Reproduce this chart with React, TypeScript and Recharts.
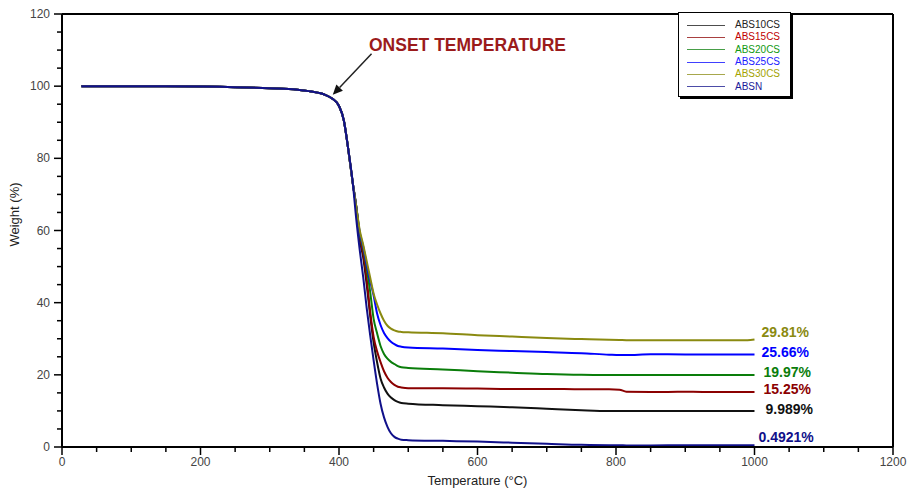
import {
  Legend,
  Line,
  LineChart,
  ReferenceDot,
  ReferenceLine,
  XAxis,
  YAxis,
} from "recharts";

const FONT = "'Liberation Sans', Arial, sans-serif";

// temperature grid (°C)
const TEMPS = [
  28, 150, 250, 300, 340, 360, 380, 390, 400, 407, 413, 420, 425, 430, 435,
  440, 445, 450, 455, 460, 465, 470, 475, 480, 485, 490, 500, 550, 600, 650,
  700, 750, 790, 805, 815, 850, 900, 950, 990, 1000,
];

// weight (%) per sample
const ABS10CS = [
  100, 99.95, 99.7, 99.4, 99.0, 98.5, 97.6, 96.6, 94.5, 90.5, 83, 73, 66.5,
  57.5, 52.5, 45, 36.5, 29, 23.5, 19, 16.5, 14.8, 13.7, 13.0, 12.5, 12.2, 12.0,
  11.6, 11.3, 11.0, 10.6, 10.2, 10.0, 10.0, 10.0, 9.99, 9.99, 9.99, 9.99, 9.989,
];
const ABS15CS = [
  100, 99.95, 99.7, 99.4, 99.0, 98.5, 97.6, 96.6, 94.5, 90.5, 83, 73, 66.5,
  58.5, 53.5, 46.5, 37.5, 30.5, 26.5, 23.5, 21, 19.2, 18, 17.2, 16.7, 16.5,
  16.3, 16.3, 16.2, 16.1, 16.1, 16.0, 16.0, 15.9, 15.3, 15.25, 15.3, 15.25,
  15.25, 15.25,
];
const ABS20CS = [
  100, 99.95, 99.7, 99.4, 99.0, 98.5, 97.6, 96.6, 94.5, 90.5, 83, 73, 66.5, 59,
  55, 49.5, 43, 35.5, 31.5, 28, 25.8, 24.5, 23.6, 23.0, 22.4, 22.1, 21.9, 21.5,
  21.0, 20.6, 20.2, 20.0, 19.97, 19.97, 19.97, 19.97, 19.97, 19.97, 19.97,
  19.97,
];
const ABS25CS = [
  100, 99.95, 99.7, 99.4, 99.0, 98.5, 97.6, 96.6, 94.5, 90.5, 83, 73, 66.5,
  59.5, 55.5, 50.5, 46, 42, 37, 33.8, 31.6, 30.2, 29.2, 28.5, 28.0, 27.8, 27.6,
  27.3, 26.9, 26.6, 26.3, 26.0, 25.6, 25.5, 25.5, 25.7, 25.66, 25.66, 25.66,
  25.66,
];
const ABS30CS = [
  100, 99.95, 99.7, 99.4, 99.0, 98.5, 97.6, 96.6, 94.5, 90.5, 83, 73, 66.5, 60,
  56, 51.5, 47, 42.5, 39.5, 37, 35, 33.6, 32.8, 32.3, 32.0, 31.9, 31.8, 31.5,
  31.0, 30.6, 30.2, 29.9, 29.7, 29.65, 29.6, 29.6, 29.55, 29.55, 29.6, 29.81,
];
const ABSN = [
  100, 99.95, 99.7, 99.4, 99.0, 98.5, 97.6, 96.6, 94.5, 90.5, 83, 73, 63, 54.5,
  47, 38.5, 31, 24, 17.5, 12, 8.2, 5.6, 3.8, 2.8, 2.3, 2.0, 1.9, 1.7, 1.5, 1.2,
  0.9, 0.6, 0.5, 0.5, 0.45, 0.45, 0.49, 0.49, 0.49, 0.4921,
];

const SERIES = ["ABS10CS", "ABS15CS", "ABS20CS", "ABS25CS", "ABS30CS", "ABSN"];
const VALUES = [ABS10CS, ABS15CS, ABS20CS, ABS25CS, ABS30CS, ABSN];
const RESIDUE_LABELS = ["9.989%", "15.25%", "19.97%", "25.66%", "29.81%", "0.4921%"];
const RESIDUE_AT = [9.989, 15.25, 19.97, 25.66, 29.81, 0.4921];

const LINE_COLORS = ["#111111", "#8b0000", "#0a7d0a", "#0000ff", "#8a8a10", "#10108a"];
const LEGEND_TEXT = ["#222222", "#c00000", "#119911", "#2020ff", "#a3a300", "#1a1a99"];
const LABEL_OFFSET = [
  [11, -2],
  [9, -3],
  [9, -3],
  [7, -2],
  [7, -7],
  [4, -8],
];

const X_TICKS = Array.from({ length: 25 }, (_, i) => i * 50);
const Y_TICKS = Array.from({ length: 25 }, (_, i) => i * 5);

const data = TEMPS.map((t, i) => {
  const row: Record<string, number> = { t };
  SERIES.forEach((s, k) => (row[s] = VALUES[k][i]));
  return row;
});

const YTick = ({ x, y, payload }: any) => {
  const v = payload.value;
  const major = v % 20 === 0;
  return (
    <g>
      <line x1={x - (major ? 8 : 5)} x2={x} y1={y} y2={y} stroke="#000" strokeWidth={1.5} />
      {major && (
        <text x={x - 12} y={y} dy={4} textAnchor="end" fontSize={12} fill="#444" fontFamily={FONT}>
          {v}
        </text>
      )}
    </g>
  );
};

const XTick = ({ x, y, payload }: any) => {
  const v = payload.value;
  const major = v % 200 === 0;
  return (
    <g>
      <line x1={x} x2={x} y1={y} y2={y + (major ? 8 : 5)} stroke="#000" strokeWidth={1.5} />
      {major && (
        <text x={x} y={y + 15} dy={4} textAnchor="middle" fontSize={12} fill="#444" fontFamily={FONT}>
          {v}
        </text>
      )}
    </g>
  );
};

const renderLegend = () => (
  <div
    style={{
      width: 113,
      height: 85,
      border: "1px solid #000",
      boxShadow: "2px 2px 0 #000",
      background: "#fff",
      boxSizing: "border-box",
      paddingTop: 6,
      fontFamily: FONT,
    }}
  >
    {SERIES.map((s, i) => (
      <div key={s} style={{ display: "flex", alignItems: "center", height: 12.3 }}>
        <span
          style={{
            display: "inline-block",
            width: 38,
            marginLeft: 8,
            borderTop: `1.5px solid ${LINE_COLORS[i]}`,
            opacity: 0.75,
          }}
        />
        <span style={{ marginLeft: 10, fontSize: 10, color: LEGEND_TEXT[i], lineHeight: "12px" }}>
          {s}
        </span>
      </div>
    ))}
  </div>
);

const Arrow = (props: any) => {
  const { x1, y1, x2, y2 } = props;
  const a = Math.atan2(y2 - y1, x2 - x1);
  const len = 10;
  const w = 4.5;
  const bx = x2 - len * Math.cos(a);
  const by = y2 - len * Math.sin(a);
  const px = -Math.sin(a) * w;
  const py = Math.cos(a) * w;
  return (
    <g>
      <line x1={x1} y1={y1} x2={bx} y2={by} stroke="#222" strokeWidth={1.5} />
      <polygon points={`${x2},${y2} ${bx + px},${by + py} ${bx - px},${by - py}`} fill="#111" />
    </g>
  );
};

export default function App() {
  return (
    <div style={{ position: "absolute", left: 0, top: 0, background: "#fff" }}>
      <LineChart
        width={912}
        height={488}
        data={data}
        margin={{ top: 14, right: 19, bottom: 0, left: 0 }}
      >
        <XAxis
          dataKey="t"
          type="number"
          domain={[0, 1200]}
          ticks={X_TICKS}
          interval={0}
          tickSize={0}
          tickMargin={0}
          tickLine={false}
          tick={<XTick />}
          axisLine={{ stroke: "#000", strokeWidth: 2 }}
          height={41}
          label={{
            content: ({ viewBox }: any) => (
              <text
                x={viewBox.x + viewBox.width / 2}
                y={viewBox.y + 38}
                textAnchor="middle"
                fontSize={13}
                fill="#222"
                fontFamily={FONT}
              >
                Temperature (°C)
              </text>
            ),
          }}
        />
        <YAxis
          type="number"
          domain={[0, 120]}
          ticks={Y_TICKS}
          interval={0}
          tickSize={0}
          tickMargin={0}
          tickLine={false}
          tick={<YTick />}
          axisLine={{ stroke: "#000", strokeWidth: 2 }}
          width={62}
          label={{
            content: ({ viewBox }: any) => {
              const cx = 15;
              const cy = viewBox.y + viewBox.height / 2 - 16;
              return (
                <text
                  x={cx}
                  y={cy}
                  dy={4}
                  transform={`rotate(-90 ${cx} ${cy})`}
                  textAnchor="middle"
                  fontSize={13}
                  fill="#222"
                  fontFamily={FONT}
                >
                  Weight (%)
                </text>
              );
            },
          }}
        />
        <ReferenceLine y={120} stroke="#000" strokeWidth={2} />
        <ReferenceLine x={1200} stroke="#000" strokeWidth={2} />

        {SERIES.map((s, i) => (
          <Line
            key={s}
            dataKey={s}
            type="monotone"
            stroke={LINE_COLORS[i]}
            strokeWidth={2}
            dot={false}
            isAnimationActive={false}
          />
        ))}

        {SERIES.map((s, i) => (
          <ReferenceDot
            key={`lab-${s}`}
            x={1000}
            y={RESIDUE_AT[i]}
            r={0}
            stroke="none"
            label={{
              content: ({ viewBox }: any) => (
                <text
                  x={viewBox.x + LABEL_OFFSET[i][0]}
                  y={viewBox.y + LABEL_OFFSET[i][1]}
                  dy={5}
                  fontSize={14}
                  fontWeight="bold"
                  fill={LINE_COLORS[i]}
                  fontFamily={FONT}
                >
                  {RESIDUE_LABELS[i]}
                </text>
              ),
            }}
          />
        ))}

        <ReferenceLine
          segment={[
            { x: 447, y: 109 },
            { x: 391, y: 97.6 },
          ]}
          shape={Arrow}
        />
        <ReferenceDot
          x={585.6}
          y={111.4}
          r={0}
          stroke="none"
          label={{
            value: "ONSET TEMPERATURE",
            position: "center",
            fill: "#9b1b1b",
            fontSize: 17.5,
            fontWeight: "bold",
            fontFamily: FONT,
          }}
        />

        <Legend
          layout="vertical"
          align="center"
          verticalAlign="middle"
          content={renderLegend}
          wrapperStyle={{ left: 678, top: 12, width: 113, height: 85 }}
        />
      </LineChart>
    </div>
  );
}
